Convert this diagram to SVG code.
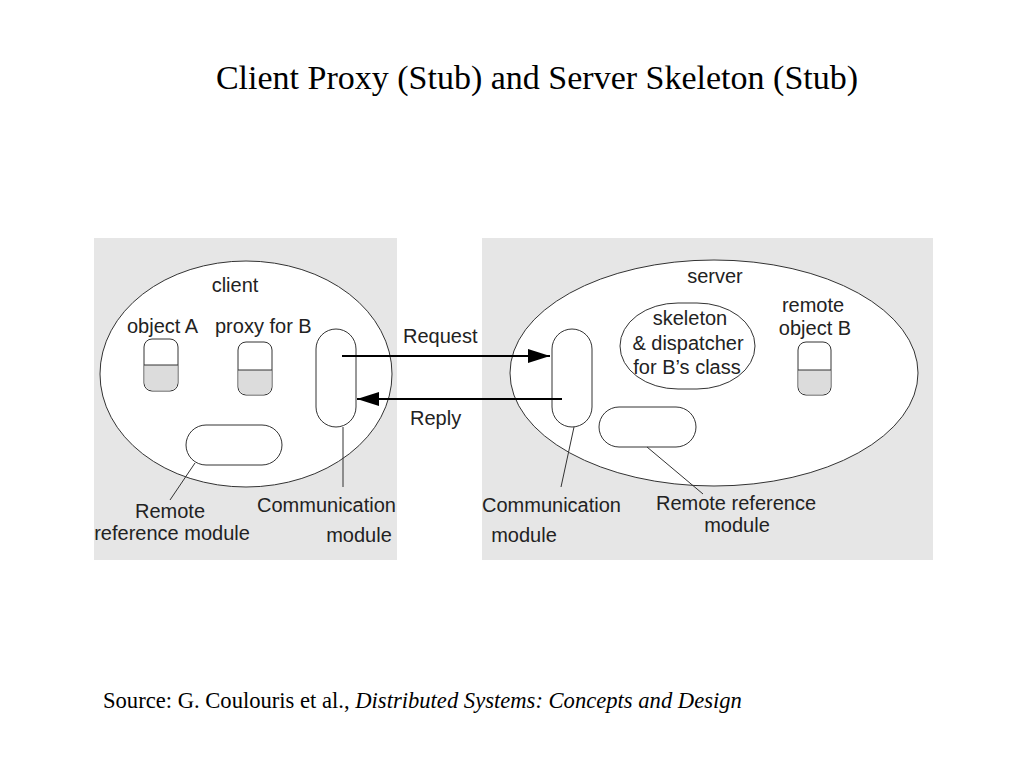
<svg xmlns="http://www.w3.org/2000/svg" width="1024" height="768" viewBox="0 0 1024 768">
<defs>
<style>
.panel{fill:#e6e6e6;stroke:none}
.outline{fill:#fff;stroke:#333;stroke-width:1}
.box{fill:#fff;stroke:#333;stroke-width:1}
.half{fill:#dcdcdc;stroke:none}
.div{stroke:#333;stroke-width:1}
.lead{stroke:#333;stroke-width:1;fill:none}
.arrow{stroke:#000;stroke-width:2;fill:none;marker-end:url(#ah)}
.lbl{font-family:"Liberation Sans",Arial,sans-serif;font-size:20px;fill:#222}
.c{text-anchor:middle}
.title{font-family:"Liberation Serif","Times New Roman",serif;font-size:34px;fill:#000}
.src{font-family:"Liberation Serif","Times New Roman",serif;font-size:22.6px;fill:#000}
</style>
<marker id="ah" markerUnits="userSpaceOnUse" markerWidth="24" markerHeight="16" refX="22" refY="7" orient="auto">
<path d="M0,0 L22,7 L0,14 Z" fill="#000"/>
</marker>
</defs>
<rect width="1024" height="768" fill="#fff"/>
<text class="title" x="537" y="89" text-anchor="middle">Client Proxy (Stub) and Server Skeleton (Stub)</text>

<g id="client">
<rect class="panel" x="94" y="238" width="303" height="322"/>
<ellipse class="outline" cx="246" cy="374" rx="146" ry="113"/>
<text class="lbl c" x="235" y="292">client</text>
</g>
<g id="server">
<rect class="panel" x="482" y="238" width="451" height="322"/>
<ellipse class="outline" cx="714" cy="373" rx="204" ry="113"/>
<text class="lbl c" x="715" y="283">server</text>
</g>

<g id="objectA">
<text class="lbl" x="127" y="333">object A</text>
<rect class="box" x="144" y="339" width="34" height="52" rx="8"/>
<path class="half" d="M144.5,365 H177.5 V383 A8,8 0 0 1 169.5,390.5 H152.5 A8,8 0 0 1 144.5,383 Z"/>
<line class="div" x1="144" y1="365" x2="178" y2="365"/>
</g>
<g id="proxyB">
<text class="lbl" x="215" y="333">proxy for B</text>
<rect class="box" x="238" y="342" width="34" height="53" rx="8"/>
<path class="half" d="M238.5,370 H271.5 V387 A8,8 0 0 1 263.5,394.5 H246.5 A8,8 0 0 1 238.5,387 Z"/>
<line class="div" x1="238" y1="370" x2="272" y2="370"/>
</g>
<g id="clientComm">
<rect class="box" x="316" y="329" width="40" height="98" rx="20"/>
<text class="lbl" x="257" y="512">Communication</text>
<text class="lbl c" x="359" y="542">module</text>
</g>
<g id="clientRRM">
<rect class="box" x="186" y="425" width="96" height="40" rx="20"/>
<text class="lbl c" x="170" y="518">Remote</text>
<text class="lbl c" x="172" y="540">reference module</text>
</g>

<g id="skeleton">
<rect class="box" x="620" y="303" width="135" height="86" rx="58" ry="43"/>
<text class="lbl c" x="690" y="325">skeleton</text>
<text class="lbl c" x="688" y="350">&amp; dispatcher</text>
<text class="lbl c" x="687" y="374">for B’s class</text>
</g>
<g id="remoteB">
<text class="lbl c" x="813" y="312">remote</text>
<text class="lbl c" x="815" y="335">object B</text>
<rect class="box" x="798" y="342" width="33" height="53" rx="8"/>
<path class="half" d="M798.5,370 H830.5 V387 A8,8 0 0 1 822.5,394.5 H806.5 A8,8 0 0 1 798.5,387 Z"/>
<line class="div" x1="798" y1="370" x2="831" y2="370"/>
</g>
<g id="serverComm">
<rect class="box" x="552" y="329" width="40" height="98" rx="20"/>
<text class="lbl" x="482" y="512">Communication</text>
<text class="lbl c" x="524" y="542">module</text>
</g>
<g id="serverRRM">
<rect class="box" x="599" y="407" width="97" height="40" rx="20"/>
<text class="lbl c" x="736" y="510">Remote reference</text>
<text class="lbl c" x="737" y="532">module</text>
</g>

<g id="connectors">
<line class="arrow" x1="342" y1="356" x2="550" y2="356"/>
<line class="arrow" x1="562" y1="399" x2="357" y2="399"/>
<text class="lbl" x="403" y="343">Request</text>
<text class="lbl" x="410" y="425">Reply</text>
<line class="lead" x1="195" y1="463" x2="170" y2="500"/>
<line class="lead" x1="343" y1="427" x2="343" y2="487"/>
<line class="lead" x1="574" y1="427" x2="561" y2="487"/>
<line class="lead" x1="647" y1="447" x2="703" y2="494"/>
</g>

<text class="src" x="103" y="708">Source: G. Coulouris et al., <tspan font-style="italic">Distributed Systems: Concepts and Design</tspan></text>
</svg>
